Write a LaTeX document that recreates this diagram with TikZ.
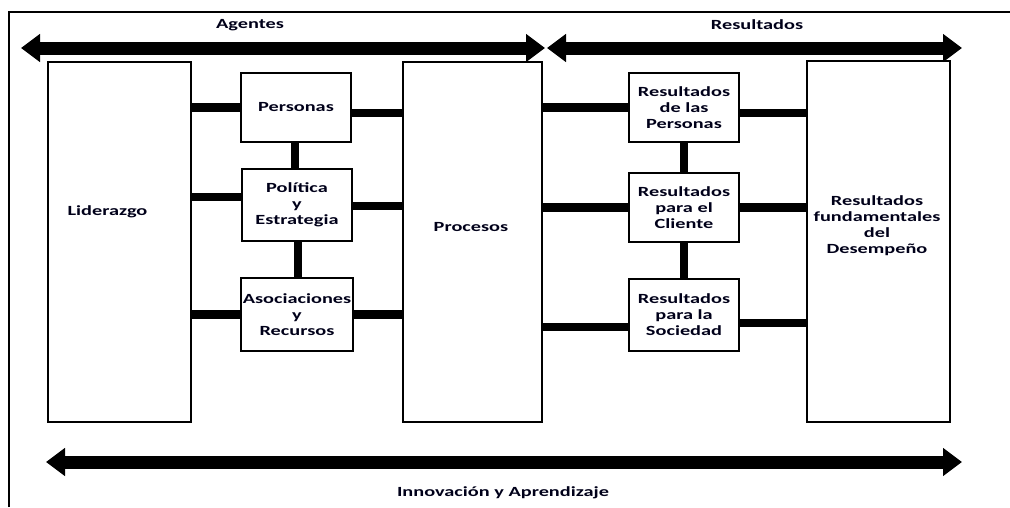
\documentclass[tikz,border=0pt]{standalone}
\usepackage{fontspec}
\setmainfont{Carlito}[FakeStretch=1.45]
\usetikzlibrary{arrows.meta,calc}
\begin{document}
\begin{tikzpicture}[x=1pt,y=-1pt,
  box/.style={draw,line width=2pt,inner sep=0pt,outer sep=0pt},
  txt/.style={font=\fontsize{14}{16}\selectfont\bfseries,align=center,inner sep=0pt,text=black!90!blue},
  bar/.style={line width=8.5pt},
  bigarrow/.style={line width=13pt,{Triangle[length=19pt,width=27pt]}-{Triangle[length=19pt,width=27pt]}}]
\useasboundingbox (0,0) rectangle (1010,507);
% frame
\coordinate (fTL) at (9,12);
\coordinate (fTR) at (1010,12);
\coordinate (fBL) at (9,507);
\draw[line width=1.5pt] (fBL) -- (fTL) -- (fTR);
% big boxes
\node[box,minimum width=143pt,minimum height=360pt] (lid) at (119.5,242) {};
\node[box,minimum width=139pt,minimum height=360pt] (proc) at (472.5,242) {};
\node[box,minimum width=143pt,minimum height=361pt] (fund) at (878.5,241.5) {};
\node[txt] (lidT) at (107.5,212) {Liderazgo};
\node[txt] (procT) at (471,227) {Procesos};
\node[txt] (fundT) at (877,226) {Resultados\\fundamentales\\del\\Desempeño};
% middle boxes
\node[box,txt,minimum width=110pt,minimum height=69pt] (pers) at (296,107.5) {Personas};
\node[box,txt,minimum width=110pt,minimum height=72pt] (pol) at (297,205) {Política\\y\\Estrategia};
\node[box,txt,minimum width=112pt,minimum height=73pt] (asoc) at (297,314.5) {Asociaciones\\y\\Recursos};
\node[box,txt,minimum width=110pt,minimum height=69pt] (rpers) at (684,107.5) {Resultados\\de las\\Personas};
\node[box,txt,minimum width=110pt,minimum height=69pt] (rcli) at (684,207.5) {Resultados\\para el\\Cliente};
\node[box,txt,minimum width=110pt,minimum height=72pt] (rsoc) at (684,315) {Resultados\\para la\\Sociedad};
% connectors left
\draw[bar] (lid.east |- pers.west) -- (pers.west);
\draw[bar] ([yshift=-5.5pt]pers.east) -- ([yshift=-5.5pt]pers.east -| proc.west);
\draw[bar] ([yshift=8pt]lid.east |- pol.west) -- ([yshift=8pt]pol.west);
\draw[bar] ([yshift=-1pt]pol.east) -- ([yshift=-1pt]pol.east -| proc.west);
\draw[bar] (lid.east |- asoc.west) -- (asoc.west);
\draw[bar] (asoc.east) -- (asoc.east -| proc.west);
\draw[bar] ([xshift=-1pt]pers.south) -- ([xshift=-1pt]pers.south |- pol.north);
\draw[bar] ([xshift=1pt]pol.south) -- ([xshift=1pt]pol.south |- asoc.north);
% connectors right
\draw[bar] (proc.east |- rpers.west) -- (rpers.west);
\draw[bar] ([yshift=-5.5pt]rpers.east) -- ([yshift=-5.5pt]rpers.east -| fund.west);
\draw[bar] (proc.east |- rcli.west) -- (rcli.west);
\draw[bar] (rcli.east) -- (rcli.east -| fund.west);
\draw[bar] ([yshift=-12pt]proc.east |- rsoc.west) -- ([yshift=-12pt]rsoc.west);
\draw[bar] ([yshift=-8pt]rsoc.east) -- ([yshift=-8pt]rsoc.east -| fund.west);
\draw[bar] (rpers.south) -- (rcli.north);
\draw[bar] (rcli.south) -- (rsoc.north);
% arrows
\coordinate (agL) at (21,48);
\coordinate (agR) at (545,48);
\coordinate (reL) at (547,48);
\coordinate (reR) at (962,48);
\coordinate (inL) at (46,462);
\coordinate (inR) at (962,462);
\draw[bigarrow] (agL) -- (agR);
\draw[bigarrow] (reL) -- (reR);
\draw[bigarrow] (inL) -- (inR);
\node[txt] (agT) at (250,25) {Agentes};
\node[txt] (reT) at (757,25) {Resultados};
\node[txt] (inT) at (503,493) {Innovación y Aprendizaje};
\end{tikzpicture}
\end{document}
